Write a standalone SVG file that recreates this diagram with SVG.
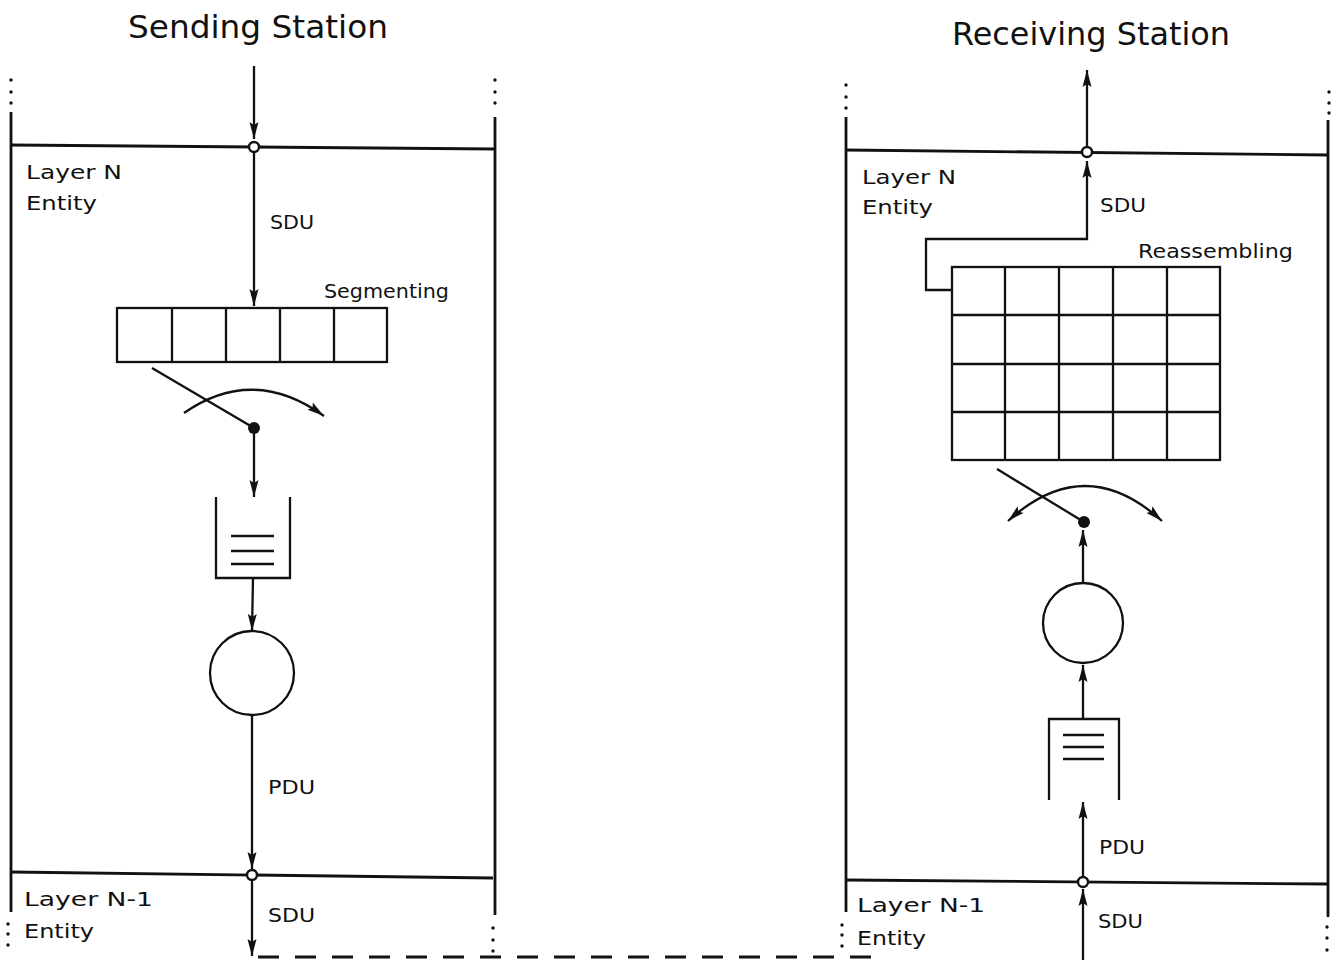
<svg xmlns="http://www.w3.org/2000/svg" width="1337" height="960" viewBox="0 0 1337 960">
<style>
.ln{stroke:#111;stroke-width:2.3;fill:none}
.wall{stroke:#111;stroke-width:2.8;fill:none}
.ar{stroke:#111;stroke-width:2.3;fill:none;marker-end:url(#ah)}
.jn{stroke:#111;stroke-width:2.4;fill:#fff}
.sw{fill:#111}
.dt{fill:#111}
.t{font-family:"DejaVu Sans","Liberation Sans",sans-serif;font-size:20px;fill:#111}
.title{font-family:"DejaVu Sans","Liberation Sans",sans-serif;font-size:32px;fill:#111}
.dash{stroke:#111;stroke-width:3;stroke-dasharray:21 16;fill:none}
</style>
<defs>
<marker id="ah" markerUnits="userSpaceOnUse" markerWidth="18" markerHeight="12" refX="17" refY="6" orient="auto">
<path d="M0,1.5 L17,6 L0,10.5 L3,6 z" fill="#111"/>
</marker>
<marker id="ahs" markerUnits="userSpaceOnUse" markerWidth="18" markerHeight="12" refX="17" refY="6" orient="auto-start-reverse">
<path d="M0,1.5 L17,6 L0,10.5 L3,6 z" fill="#111"/>
</marker>
</defs>

<g id="sending-station">
<text class="title" x="128" y="38" textLength="260" lengthAdjust="spacingAndGlyphs">Sending Station</text>
<path class="wall" d="M11,112 V912 M495,117 V915"/>
<g class="dt">
<circle cx="11" cy="80" r="1.7"/><circle cx="11" cy="92" r="1.7"/><circle cx="11" cy="103" r="1.7"/>
<circle cx="495" cy="80" r="1.7"/><circle cx="495" cy="92" r="1.7"/><circle cx="495" cy="103" r="1.7"/>
<circle cx="8" cy="924" r="1.7"/><circle cx="8" cy="934" r="1.7"/><circle cx="8" cy="945" r="1.7"/>
<circle cx="493" cy="928" r="1.7"/><circle cx="493" cy="940" r="1.7"/><circle cx="493" cy="951" r="1.7"/>
</g>
<path class="wall" d="M11,145 L495,149"/>
<path class="wall" d="M11,872 L493,878"/>
</g>

<g id="sending-labels">
<text class="t" x="26" y="179" textLength="96" lengthAdjust="spacingAndGlyphs">Layer N</text>
<text class="t" x="26" y="210" textLength="71" lengthAdjust="spacingAndGlyphs">Entity</text>
<text class="t" x="270" y="229" textLength="44" lengthAdjust="spacingAndGlyphs">SDU</text>
<text class="t" x="324" y="298" textLength="125" lengthAdjust="spacingAndGlyphs">Segmenting</text>
<text class="t" x="268" y="794" textLength="47" lengthAdjust="spacingAndGlyphs">PDU</text>
<text class="t" x="24" y="906" textLength="129" lengthAdjust="spacingAndGlyphs">Layer N-1</text>
<text class="t" x="24" y="938" textLength="70" lengthAdjust="spacingAndGlyphs">Entity</text>
<text class="t" x="268" y="922" textLength="47" lengthAdjust="spacingAndGlyphs">SDU</text>
</g>

<g id="segmenting-buffer">
<rect class="ln" x="117" y="308" width="270" height="54"/>
<path class="ln" d="M172,308 V362 M226,308 V362 M280,308 V362 M334,308 V362"/>
</g>

<g id="send-switch">
<path class="ln" d="M152,368 L254,428"/>
<circle class="sw" cx="254" cy="428" r="6"/>
</g>

<g id="send-queue">
<path class="ln" d="M216,497 V578 H290 V497"/>
<path class="ln" d="M231,536 H274 M231,551 H274 M231,564 H274"/>
</g>

<g id="send-server">
<circle class="ln" cx="252" cy="673" r="42"/>
</g>

<g id="receiving-station">
<text class="title" x="952" y="45" textLength="278" lengthAdjust="spacingAndGlyphs">Receiving Station</text>
<path class="wall" d="M846,117 V912 M1328,120 V917"/>
<g class="dt">
<circle cx="846" cy="85" r="1.7"/><circle cx="846" cy="97" r="1.7"/><circle cx="846" cy="108" r="1.7"/>
<circle cx="1329" cy="92" r="1.7"/><circle cx="1329" cy="103" r="1.7"/><circle cx="1329" cy="113" r="1.7"/>
<circle cx="842" cy="925" r="1.7"/><circle cx="842" cy="935" r="1.7"/><circle cx="842" cy="946" r="1.7"/>
<circle cx="1327" cy="927" r="1.7"/><circle cx="1327" cy="938" r="1.7"/><circle cx="1327" cy="950" r="1.7"/>
</g>
<path class="wall" d="M846,150 L1328,155"/>
<path class="wall" d="M846,880 L1327,884"/>
</g>

<g id="receiving-labels">
<text class="t" x="862" y="184" textLength="94" lengthAdjust="spacingAndGlyphs">Layer N</text>
<text class="t" x="862" y="214" textLength="71" lengthAdjust="spacingAndGlyphs">Entity</text>
<text class="t" x="1100" y="212" textLength="46" lengthAdjust="spacingAndGlyphs">SDU</text>
<text class="t" x="1138" y="258" textLength="155" lengthAdjust="spacingAndGlyphs">Reassembling</text>
<text class="t" x="1099" y="854" textLength="46" lengthAdjust="spacingAndGlyphs">PDU</text>
<text class="t" x="857" y="912" textLength="128" lengthAdjust="spacingAndGlyphs">Layer N-1</text>
<text class="t" x="857" y="945" textLength="69" lengthAdjust="spacingAndGlyphs">Entity</text>
<text class="t" x="1098" y="928" textLength="45" lengthAdjust="spacingAndGlyphs">SDU</text>
</g>

<g id="reassembling-buffer">
<rect class="ln" x="952" y="267" width="268" height="193"/>
<path class="ln" d="M1005,267 V460 M1059,267 V460 M1113,267 V460 M1167,267 V460 M952,315 H1220 M952,364 H1220 M952,412 H1220"/>
</g>

<g id="recv-switch">
<path class="ln" d="M997,469 L1084,522"/>
<circle class="sw" cx="1084" cy="522" r="6"/>
</g>

<g id="recv-server">
<circle class="ln" cx="1083" cy="623" r="40"/>
</g>

<g id="recv-queue">
<path class="ln" d="M1049,800 V719 H1119 V800"/>
<path class="ln" d="M1063,735 H1104 M1063,747 H1104 M1063,759 H1104"/>
</g>

<g id="connectors">
<path class="ar" d="M254,66 L254,139"/>
<path class="ar" d="M254,152 L254,306"/>
<path class="ln" d="M184,413 Q253,365 324,416" marker-end="url(#ah)"/>
<path class="ar" d="M254,434 L254,497"/>
<path class="ar" d="M253,578 L252,631"/>
<path class="ar" d="M252,715 L252,869"/>
<path class="ar" d="M252,880 L252,956"/>
<path class="dash" d="M258,957 L880,957"/>
<path class="ar" d="M1087,147 L1087,70"/>
<path class="ar" d="M952,290 H926 V239 H1087 V161"/>
<path class="ln" d="M1008,521 Q1085,451 1162,521" marker-start="url(#ahs)" marker-end="url(#ahs)"/>
<path class="ar" d="M1083,583 L1083,530"/>
<path class="ar" d="M1083,719 L1083,665"/>
<path class="ar" d="M1083,877 L1083,802"/>
<path class="ar" d="M1083,960 L1083,889"/>
<circle class="jn" cx="254" cy="147" r="5"/>
<circle class="jn" cx="252" cy="875" r="5"/>
<circle class="jn" cx="1087" cy="152" r="5"/>
<circle class="jn" cx="1083" cy="882" r="5"/>
</g>
</svg>
